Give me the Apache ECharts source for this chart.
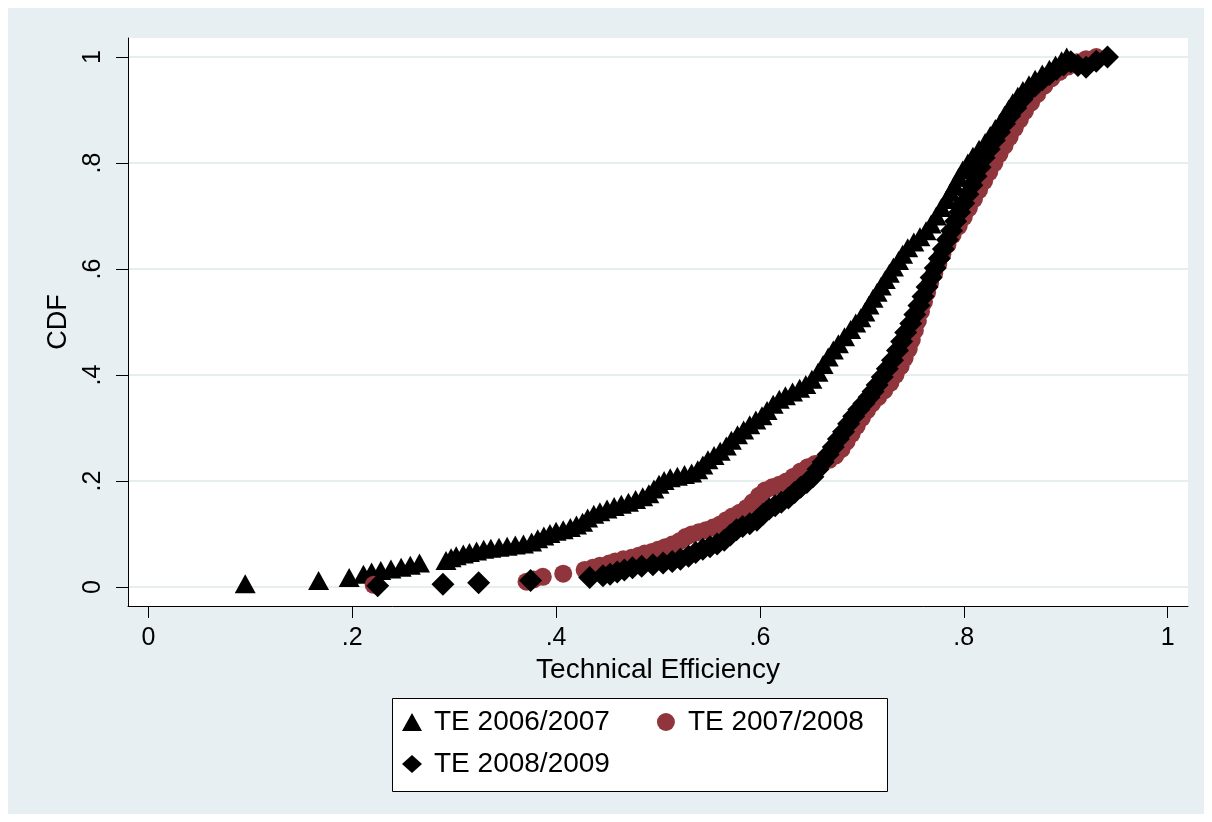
<!DOCTYPE html>
<html>
<head>
<meta charset="utf-8">
<title>CDF of technical efficiency</title>
<script src="https://cdn.jsdelivr.net/npm/echarts@6/dist/echarts.min.js"></script>
<style>
  html, body {
    margin: 0;
    padding: 0;
    background: #fff;
  }
  #cdf-chart {
    position: absolute;
    left: 8px;
    top: 8px;
    width: 1196px;
    height: 806px;
  }
</style>
</head>
<body>
<div id="cdf-chart"></div>
<script>
// tick values and their labels (same on both axes)
var tickValues = [0, 0.2, 0.4, 0.6, 0.8, 1];
var tickLabels = ["0", ".2", ".4", ".6", ".8", "1"];

var seriesNames = ["TE 2006/2007", "TE 2007/2008", "TE 2008/2009"];

// [technical efficiency, cdf]
var te0607 = [
  [0.095, 0.006], [0.167, 0.012], [0.197, 0.018], [0.211, 0.024], [0.219, 0.028],
  [0.228, 0.031], [0.238, 0.034], [0.248, 0.037], [0.257, 0.041], [0.266, 0.045],
  [0.292, 0.050], [0.297, 0.055], [0.302, 0.059], [0.309, 0.062], [0.315, 0.065],
  [0.322, 0.068], [0.329, 0.071], [0.336, 0.073], [0.344, 0.075], [0.352, 0.077],
  [0.360, 0.079], [0.368, 0.081], [0.376, 0.085], [0.382, 0.091], [0.388, 0.096],
  [0.394, 0.101], [0.400, 0.105], [0.407, 0.108], [0.414, 0.112], [0.420, 0.117],
  [0.426, 0.122], [0.431, 0.130], [0.437, 0.137], [0.443, 0.142], [0.450, 0.147],
  [0.457, 0.152], [0.464, 0.156], [0.471, 0.160], [0.478, 0.165], [0.485, 0.170],
  [0.491, 0.176], [0.496, 0.185], [0.501, 0.194], [0.506, 0.201], [0.512, 0.206],
  [0.519, 0.209], [0.526, 0.212], [0.533, 0.215], [0.539, 0.221], [0.544, 0.230],
  [0.549, 0.240], [0.555, 0.248], [0.561, 0.256], [0.567, 0.266], [0.572, 0.277],
  [0.578, 0.287], [0.584, 0.296], [0.590, 0.306], [0.596, 0.315], [0.602, 0.323],
  [0.607, 0.333], [0.613, 0.345], [0.619, 0.354], [0.625, 0.361], [0.632, 0.368],
  [0.639, 0.375], [0.645, 0.382], [0.651, 0.392], [0.657, 0.405], [0.662, 0.420],
  [0.667, 0.434], [0.672, 0.447], [0.677, 0.459], [0.683, 0.472], [0.689, 0.486],
  [0.694, 0.498], [0.699, 0.508], [0.703, 0.519], [0.707, 0.532], [0.711, 0.545],
  [0.715, 0.556], [0.719, 0.568], [0.723, 0.580], [0.727, 0.592], [0.731, 0.604],
  [0.736, 0.616], [0.740, 0.628], [0.745, 0.640], [0.751, 0.651], [0.757, 0.661],
  [0.763, 0.672], [0.768, 0.685], [0.773, 0.700], [0.778, 0.716], [0.783, 0.731],
  [0.787, 0.745], [0.791, 0.759], [0.795, 0.773], [0.799, 0.787], [0.804, 0.800],
  [0.809, 0.813], [0.815, 0.826], [0.821, 0.839], [0.826, 0.852], [0.831, 0.865],
  [0.836, 0.877], [0.840, 0.890], [0.844, 0.902], [0.848, 0.914], [0.853, 0.926],
  [0.858, 0.937], [0.864, 0.948], [0.870, 0.958], [0.877, 0.968], [0.884, 0.977],
  [0.890, 0.985], [0.896, 0.993], [0.901, 1.000]
];

var te0708 = [
  [0.221, 0.004], [0.371, 0.010], [0.378, 0.014], [0.387, 0.019], [0.407, 0.025],
  [0.428, 0.032], [0.436, 0.036], [0.443, 0.040], [0.452, 0.044], [0.458, 0.048],
  [0.466, 0.052], [0.474, 0.055], [0.481, 0.059], [0.487, 0.063], [0.494, 0.066],
  [0.500, 0.070], [0.507, 0.075], [0.514, 0.080], [0.521, 0.086], [0.527, 0.094],
  [0.533, 0.099], [0.540, 0.103], [0.547, 0.107], [0.554, 0.112], [0.561, 0.118],
  [0.567, 0.126], [0.573, 0.133], [0.580, 0.140], [0.587, 0.149], [0.593, 0.160],
  [0.599, 0.172], [0.605, 0.182], [0.612, 0.188], [0.619, 0.193], [0.626, 0.199],
  [0.633, 0.208], [0.640, 0.218], [0.647, 0.226], [0.654, 0.232], [0.661, 0.236],
  [0.668, 0.240], [0.674, 0.248], [0.680, 0.260], [0.685, 0.274], [0.690, 0.289],
  [0.695, 0.304], [0.700, 0.319], [0.705, 0.333], [0.710, 0.346], [0.716, 0.358],
  [0.722, 0.371], [0.728, 0.385], [0.733, 0.400], [0.738, 0.416], [0.742, 0.432],
  [0.746, 0.449], [0.749, 0.466], [0.752, 0.484], [0.755, 0.502], [0.758, 0.520],
  [0.761, 0.538], [0.764, 0.556], [0.767, 0.574], [0.771, 0.592], [0.775, 0.610],
  [0.779, 0.628], [0.784, 0.646], [0.789, 0.664], [0.795, 0.681], [0.800, 0.698],
  [0.805, 0.715], [0.810, 0.732], [0.815, 0.749], [0.820, 0.766], [0.825, 0.783],
  [0.830, 0.800], [0.835, 0.817], [0.840, 0.833], [0.845, 0.849], [0.850, 0.866],
  [0.855, 0.882], [0.860, 0.898], [0.866, 0.914], [0.872, 0.930], [0.879, 0.946],
  [0.886, 0.960], [0.894, 0.972], [0.902, 0.982], [0.911, 0.990], [0.920, 0.996],
  [0.930, 1.000]
];

var te0809 = [
  [0.225, 0.002], [0.289, 0.005], [0.324, 0.008], [0.375, 0.012], [0.433, 0.018],
  [0.446, 0.021], [0.453, 0.024], [0.460, 0.028], [0.467, 0.032], [0.475, 0.036],
  [0.484, 0.039], [0.495, 0.042], [0.505, 0.045], [0.514, 0.048], [0.522, 0.052],
  [0.530, 0.058], [0.537, 0.065], [0.544, 0.071], [0.551, 0.076], [0.558, 0.081],
  [0.565, 0.088], [0.571, 0.098], [0.577, 0.108], [0.583, 0.114], [0.590, 0.119],
  [0.597, 0.126], [0.603, 0.137], [0.609, 0.147], [0.615, 0.153], [0.621, 0.160],
  [0.628, 0.168], [0.634, 0.178], [0.640, 0.188], [0.646, 0.197], [0.652, 0.208],
  [0.657, 0.222], [0.662, 0.236], [0.667, 0.250], [0.672, 0.264], [0.677, 0.279],
  [0.682, 0.293], [0.687, 0.308], [0.692, 0.322], [0.697, 0.335], [0.702, 0.346],
  [0.707, 0.358], [0.711, 0.369], [0.715, 0.381], [0.720, 0.396], [0.725, 0.412],
  [0.730, 0.428], [0.735, 0.446], [0.739, 0.463], [0.743, 0.480], [0.748, 0.497],
  [0.752, 0.514], [0.756, 0.531], [0.760, 0.548], [0.764, 0.566], [0.768, 0.584],
  [0.772, 0.602], [0.776, 0.620], [0.780, 0.638], [0.784, 0.655], [0.788, 0.672],
  [0.792, 0.690], [0.796, 0.707], [0.800, 0.724], [0.804, 0.741], [0.808, 0.758],
  [0.812, 0.775], [0.816, 0.792], [0.820, 0.810], [0.825, 0.826], [0.830, 0.843],
  [0.835, 0.858], [0.840, 0.874], [0.845, 0.889], [0.851, 0.904], [0.857, 0.920],
  [0.863, 0.934], [0.870, 0.946], [0.877, 0.957], [0.884, 0.967], [0.891, 0.977],
  [0.898, 0.985], [0.905, 0.991], [0.912, 0.984], [0.920, 0.981], [0.930, 0.992],
  [0.941, 1.000]
];

var fontFamily = "'Liberation Sans', Arial, Helvetica, sans-serif";

function tickFormatter(v) {
  for (var i = 0; i < tickValues.length; i++) {
    if (Math.abs(tickValues[i] - v) < 1e-9) return tickLabels[i];
  }
  return "";
}

var legendText = { fontFamily: fontFamily, fontSize: 28, color: "#000", padding: [0, 0, 0, 7] };

var option = {
  backgroundColor: "#e8eff2",
  animation: false,
  textStyle: { fontFamily: fontFamily, color: "#000" },
  grid: {
    left: 120,
    top: 30,
    right: 16,
    bottom: 208,
    show: true,
    backgroundColor: "#fff",
    borderWidth: 0
  },
  graphic: [
    {
      type: "rect",
      left: 384,
      top: 690,
      shape: { width: 495, height: 93 },
      style: { fill: "#fff", stroke: "#000", lineWidth: 1 }
    }
  ],
  // two rows of the stata legend box
  legend: [
    {
      left: 394,
      top: 700,
      padding: 0,
      itemGap: 47,
      itemWidth: 20,
      itemHeight: 18,
      data: [seriesNames[0], seriesNames[1]],
      textStyle: legendText
    },
    {
      left: 394,
      top: 742,
      padding: 0,
      itemWidth: 20,
      itemHeight: 18,
      data: [seriesNames[2]],
      textStyle: legendText
    }
  ],
  xAxis: {
    type: "value",
    min: -0.02,
    max: 1.02,
    name: "Technical Efficiency",
    nameLocation: "middle",
    nameGap: 46,
    nameTextStyle: { fontFamily: fontFamily, fontSize: 28, color: "#000" },
    axisLine: { show: true, onZero: false, lineStyle: { color: "#000", width: 1 } },
    axisTick: { show: true, length: 12, customValues: tickValues, lineStyle: { color: "#000" } },
    axisLabel: {
      customValues: tickValues,
      formatter: tickFormatter,
      margin: 20,
      fontFamily: fontFamily,
      fontSize: 25,
      color: "#000"
    },
    splitLine: { show: false }
  },
  yAxis: {
    type: "value",
    min: -0.036,
    max: 1.036,
    name: "CDF",
    nameLocation: "middle",
    nameGap: 56,
    nameTextStyle: { fontFamily: fontFamily, fontSize: 27, color: "#000" },
    axisLine: { show: true, onZero: false, lineStyle: { color: "#000", width: 1 } },
    axisTick: { show: true, length: 12, customValues: tickValues, lineStyle: { color: "#000" } },
    axisLabel: {
      customValues: tickValues,
      formatter: tickFormatter,
      rotate: 90,
      margin: 22,
      fontFamily: fontFamily,
      fontSize: 25,
      color: "#000"
    },
    splitLine: { show: true, lineStyle: { color: "#e6eef0", width: 2 } }
  },
  series: [
    {
      name: seriesNames[0],
      type: "scatter",
      symbol: "triangle",
      symbolSize: [21, 19],
      itemStyle: { color: "#000", opacity: 1 },
      data: te0607
    },
    {
      name: seriesNames[1],
      type: "scatter",
      symbol: "circle",
      symbolSize: 18,
      itemStyle: { color: "#90353b", opacity: 1 },
      data: te0708
    },
    {
      name: seriesNames[2],
      type: "scatter",
      symbol: "diamond",
      symbolSize: 23,
      itemStyle: { color: "#000", opacity: 1 },
      data: te0809
    }
  ]
};

var myChart = echarts.init(document.getElementById("cdf-chart"));
myChart.setOption(option, true);
</script>
</body>
</html>
